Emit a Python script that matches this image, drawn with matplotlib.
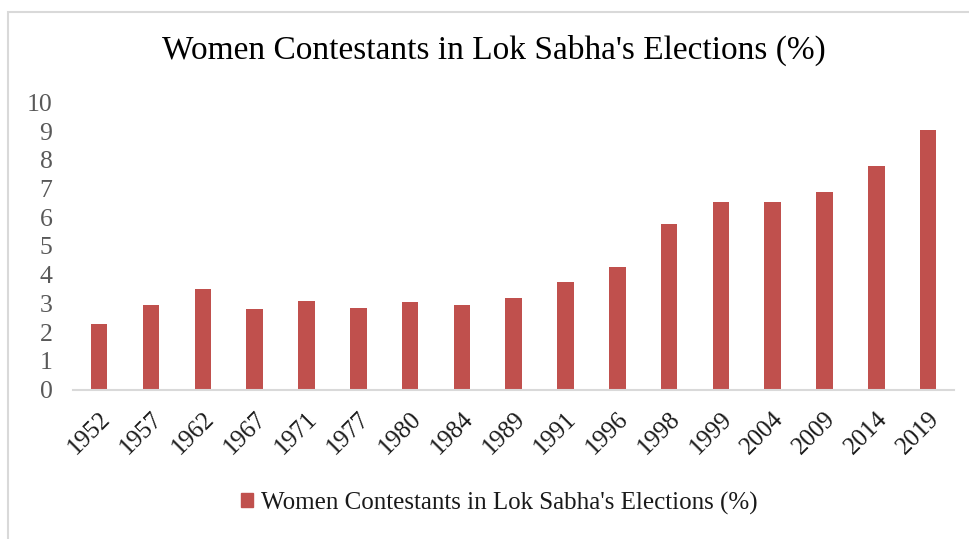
import matplotlib
matplotlib.use("Agg")
import matplotlib.pyplot as plt
from matplotlib.patches import Rectangle, Patch

years = ["1952", "1957", "1962", "1967", "1971", "1977", "1980", "1984", "1989",
         "1991", "1996", "1998", "1999", "2004", "2009", "2014", "2019"]
women_pct = [2.27, 2.94, 3.51, 2.80, 3.07, 2.85, 3.06, 2.93, 3.20,
             3.73, 4.28, 5.75, 6.52, 6.52, 6.87, 7.78, 9.03]
yticks = list(range(0, 11))
label = "Women Contestants in Lok Sabha's Elections (%)"

red = "#C0504D"
serif = ["Liberation Serif", "DejaVu Serif"]

fig = plt.figure(figsize=(9.69, 5.39), dpi=100)
ax = fig.add_axes([73.3 / 969, 1 - 389.5 / 539, (954 - 73.3) / 969, (389.5 - 102.3) / 539])

x = range(len(years))
ax.bar(x, women_pct, width=0.32, color=red, zorder=2)
ax.set_xlim(-0.5, len(years) - 0.5)
ax.set_ylim(0, 10)
ax.set_yticks(yticks)
ax.set_yticklabels([str(v) for v in yticks], family=serif, fontsize=18.5, color="#595959")
ax.set_xticks(list(x))
ax.set_xticklabels(years, family=serif, fontsize=18, color="#1a1a1a",
                   rotation=45, ha="right", rotation_mode="anchor")
ax.tick_params(axis="y", length=0, pad=15)
ax.tick_params(axis="x", length=0, pad=13)
for s in ["top", "right", "left"]:
    ax.spines[s].set_visible(False)
ax.spines["bottom"].set_color("#D9D9D9")
ax.spines["bottom"].set_linewidth(1.5)

fig.text(494 / 969, 1 - 50 / 539, label, family=serif, fontsize=24,
         ha="center", va="center", color="#000000")

leg = fig.legend(handles=[Patch(color=red, label=label)], loc="center",
                 bbox_to_anchor=(499 / 969, 1 - 503 / 539), frameon=False,
                 prop={"family": serif, "size": 18}, handlelength=0.5,
                 handleheight=0.5, handletextpad=0.3)
for t in leg.get_texts():
    t.set_color("#1a1a1a")

# chart border (runs off the right and bottom edges)
fig.patches.append(Rectangle((8 / 969, -0.05), 1.2, 1 - 12 / 539 + 0.05,
                             transform=fig.transFigure, fill=False,
                             edgecolor="#D9D9D9", linewidth=1.5))

fig.savefig("out.png", dpi=100)
